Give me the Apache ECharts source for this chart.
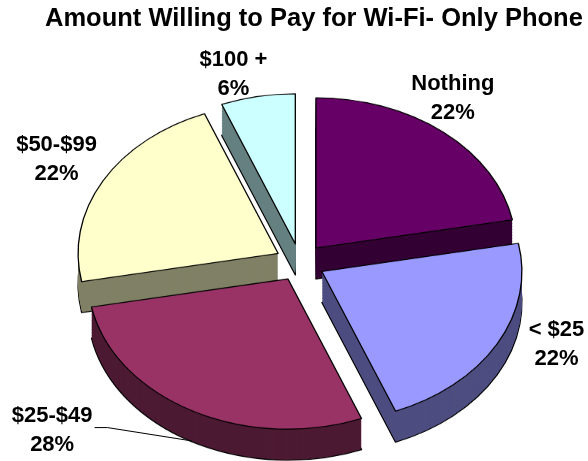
<!DOCTYPE html>
<html>
<head>
<meta charset="utf-8">
<script src="https://cdn.jsdelivr.net/npm/echarts@6/dist/echarts.min.js"></script>
<style>
html, body { margin: 0; padding: 0; background: #fff; overflow: hidden; }
#wrap { position: relative; width: 588px; height: 461px; overflow: hidden; background: #fff; }
#pie { position: absolute; left: 0; top: 0; width: 588px; transform-origin: 0 0; }
#labels { position: absolute; left: 0; top: 0; width: 588px; height: 461px; }
</style>
</head>
<body>
<div id="wrap"><div id="pie"></div><div id="labels"></div></div>
<script>
// ---- data ----
const titleText = 'Amount Willing to Pay for Wi-Fi- Only Phone';
const categories = ['Nothing', '< $25', '$25-$49', '$50-$99', '$100 +'];
const shares = [22, 22, 28, 22, 6];

// ---- styles ----
const faceColors = ['#660066', '#9999FF', '#993366', '#FFFFCC', '#CCFFFF'];
const sideColors = ['#330033', '#4D4D80', '#4D1A33', '#808066', '#668080'];
const FONT = "'Liberation Sans', Arial, Helvetica, sans-serif";

const W = 588, H = 461;
const K = 0.75;          // vertical squash of the tilted pie
const CX = 300, CY = 262; // screen centre of the top face
const R = 200;           // horizontal radius
const EXPLODE = 25;      // slice explosion (pre-squash)
const DEPTH = 31;        // thickness on screen
const STEP = 2;

// label placement tuning (style, not data)
const LABEL_LEN = [43, 54, 30, 54, 34];
const LABEL_LEN2 = [0, 0, 70, 0, 0];
const LABEL_LINE_SHOW = [false, false, true, false, false];
const LABEL_NUDGE = [[-18, -9], [12, -18], [-55, 1], [1, -2], [-18, 3]];
const GAP = 5;

// ---- slice chart (drawn unsquashed, squashed by CSS to fake the tilt) ----
const pieDiv = document.getElementById('pie');
pieDiv.style.height = (H / K) + 'px';
pieDiv.style.transform = 'scaleY(' + K + ')';
const pieChart = echarts.init(pieDiv, null, { renderer: 'canvas', width: W, height: H / K });

function layer(offset, colors, outlined) {
  return {
    type: 'pie',
    silent: true,
    animation: false,
    center: [CX, CY / K + offset],
    radius: R,
    startAngle: 90,
    clockwise: true,
    selectedMode: 'multiple',
    selectedOffset: EXPLODE,
    avoidLabelOverlap: false,
    label: { show: false },
    labelLine: { show: false },
    emphasis: { disabled: true },
    itemStyle: { borderColor: '#000', borderWidth: outlined ? 1.3 : 0 },
    data: categories.map((c, i) => ({
      name: c, value: shares[i], selected: true,
      itemStyle: { color: colors[i] },
      select: { itemStyle: { color: colors[i], borderColor: '#000', borderWidth: outlined ? 1.3 : 0 } }
    }))
  };
}
const pieSeries = [];
const depthPre = DEPTH / K;
for (let d = depthPre; d > 0; d -= STEP) {
  pieSeries.push(layer(d, sideColors, d === depthPre));
}
pieSeries.push(layer(0, faceColors, true));
pieChart.setOption({ backgroundColor: '#fff', animation: false, series: pieSeries });

// ---- title + labels chart (unsquashed text) ----
const labChart = echarts.init(document.getElementById('labels'), null, { renderer: 'canvas', width: W, height: H });
labChart.setOption({
  animation: false,
  title: {
    text: titleText,
    left: 40, top: 1,
    textStyle: { fontFamily: FONT, fontWeight: 'bold', fontSize: 25.5, color: '#000' }
  },
  series: [{
    type: 'pie',
    silent: true,
    animation: false,
    center: [CX, CY],
    radius: R + EXPLODE,
    startAngle: 90,
    clockwise: true,
    avoidLabelOverlap: false,
    itemStyle: { color: 'rgba(0,0,0,0)', borderWidth: 0 },
    emphasis: { disabled: true },
    label: {
      show: true, position: 'outside', formatter: '{b}\n{c}%',
      color: '#000', fontFamily: FONT, fontWeight: 'bold', fontSize: 22, lineHeight: 29,
      distanceToLabelLine: GAP
    },
    labelLine: { show: false, lineStyle: { color: '#000', width: 1 } },
    data: categories.map((c, i) => ({
      name: c, value: shares[i],
      labelLine: { show: LABEL_LINE_SHOW[i], length: LABEL_LEN[i], length2: LABEL_LEN2[i], smooth: false }
    })),
    labelLayout: function (p) {
      const i = p.dataIndex, r = p.labelRect;
      const right = p.align ? p.align === 'right' : (r.x + r.width / 2 < CX);
      const ax = right ? r.x + r.width + GAP : r.x - GAP;
      const ay = r.y + r.height / 2;
      const x = ax + LABEL_NUDGE[i][0];
      const y = CY + (ay - CY) * K + LABEL_NUDGE[i][1];
      const out = { x: x, y: y, align: 'center', verticalAlign: 'middle' };
      if (p.labelLinePoints && LABEL_LINE_SHOW[i]) {
        const p0 = p.labelLinePoints[0];
        const lx = x + r.width / 2 + 2, ly = y - 3;
        out.labelLinePoints = [[p0[0], CY + (p0[1] - CY) * K + DEPTH], [lx + 13, ly], [lx, ly]];
      }
      return out;
    }
  }]
});
</script>
</body>
</html>
